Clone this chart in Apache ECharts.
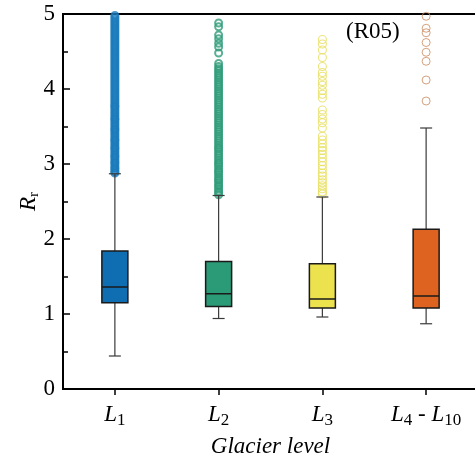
<!DOCTYPE html>
<html>
<head>
<meta charset="utf-8">
<script src="https://cdn.jsdelivr.net/npm/echarts@6/dist/echarts.min.js"></script>
<style>
  html, body { margin: 0; padding: 0; background: #fff; }
  #chart { width: 475px; height: 466px; }
</style>
</head>
<body>
<div id="chart"></div>
<script>
// Glacier levels on the category axis
const categories = ['L1', 'L2', 'L3', 'L4 - L10'];

// Box statistics of R_r per glacier level
const lowerWhisker = [0.44, 0.94, 0.96, 0.87];
const quartile1    = [1.15, 1.10, 1.08, 1.08];
const medians      = [1.36, 1.27, 1.20, 1.24];
const quartile3    = [1.84, 1.70, 1.67, 2.13];
const upperWhisker = [2.87, 2.58, 2.56, 3.48];

// Outliers above the upper whisker
const outliersL1 = [2.88, 2.90, 2.93, 2.95, 2.98, 3.01, 3.03, 3.06, 3.09, 3.11, 3.14, 3.17, 3.20, 3.22,
  3.25, 3.28, 3.31, 3.33, 3.36, 3.39, 3.42, 3.45, 3.47, 3.50, 3.53, 3.56, 3.59, 3.61, 3.64, 3.67, 3.70,
  3.73, 3.76, 3.78, 3.81, 3.84, 3.87, 3.90, 3.93, 3.96, 3.99, 4.02, 4.05, 4.08, 4.11, 4.14, 4.17, 4.20,
  4.23, 4.26, 4.29, 4.32, 4.35, 4.38, 4.41, 4.44, 4.47, 4.50, 4.53, 4.56, 4.59, 4.62, 4.65, 4.68, 4.71,
  4.74, 4.77, 4.80, 4.83, 4.86, 4.89, 4.92, 4.95, 4.98, 5.02, 5.05];
const outliersL2 = [2.59, 2.62, 2.64, 2.67, 2.70, 2.72, 2.75, 2.78, 2.80, 2.83, 2.86, 2.89, 2.91, 2.94,
  2.97, 3.00, 3.02, 3.05, 3.08, 3.11, 3.14, 3.17, 3.20, 3.22, 3.25, 3.28, 3.31, 3.34, 3.37, 3.40, 3.43,
  3.46, 3.49, 3.52, 3.55, 3.58, 3.61, 3.64, 3.67, 3.70, 3.73, 3.76, 3.79, 3.82, 3.85, 3.88, 3.91, 3.94,
  3.97, 4.00, 4.03, 4.06, 4.09, 4.12, 4.15, 4.18, 4.21, 4.24, 4.27, 4.30, 4.34, 4.48, 4.56, 4.61, 4.67,
  4.72, 4.83, 4.88];
const outliersL3 = [2.60, 2.63, 2.67, 2.71, 2.75, 2.79, 2.84, 2.88, 2.93, 2.98, 3.03, 3.08, 3.13, 3.18,
  3.22, 3.27, 3.32, 3.37, 3.48, 3.55, 3.60, 3.66, 3.72, 3.88, 3.93, 3.98, 4.05, 4.10, 4.17, 4.22, 4.30,
  4.42, 4.52, 4.60, 4.66];
const outliersL4 = [3.84, 4.12, 4.37, 4.49, 4.62, 4.75, 4.81, 4.97];

const outliers = [outliersL1, outliersL2, outliersL3, outliersL4];

// Fill colours of the boxes and outlier rings
const boxColors = ['#0f6db2', '#2b9a77', '#ece24e', '#de6320'];
const ringColors = ['#1a7bbb', '#2f9c79', '#e6df5a', '#c98a5e'];
// Ring size and stroke per level (dense clusters use a heavier stroke)
const ringSizes = [6.5, 7, 8, 8];
const ringWidths = [2.6, 2, 1.1, 1];

const serif = '"Liberation Serif", "Times New Roman", serif';
const FS = 23;

const boxData = categories.map((c, i) =>
  [i, lowerWhisker[i], quartile1[i], medians[i], quartile3[i], upperWhisker[i]]);

function renderBox(params, api) {
  const idx = api.value(0);
  const lo = api.coord([idx, api.value(1)]);
  const b1 = api.coord([idx, api.value(2)]);
  const md = api.coord([idx, api.value(3)]);
  const b3 = api.coord([idx, api.value(4)]);
  const hi = api.coord([idx, api.value(5)]);
  const x = lo[0];
  const hw = 13;   // half box width
  const cw = 6;    // half whisker cap width
  const whisk = { stroke: '#3a3a3a', lineWidth: 1.2 };
  const edge = { stroke: '#1a1a1a', lineWidth: 1.5 };
  return {
    type: 'group',
    children: [
      { type: 'line', shape: { x1: x, y1: hi[1], x2: x, y2: b3[1] }, style: whisk },
      { type: 'line', shape: { x1: x, y1: b1[1], x2: x, y2: lo[1] }, style: whisk },
      { type: 'line', shape: { x1: x - cw, y1: hi[1], x2: x + cw, y2: hi[1] }, style: whisk },
      { type: 'line', shape: { x1: x - cw, y1: lo[1], x2: x + cw, y2: lo[1] }, style: whisk },
      { type: 'rect', shape: { x: x - hw, y: b3[1], width: 2 * hw, height: b1[1] - b3[1] },
        style: { fill: boxColors[idx], stroke: edge.stroke, lineWidth: edge.lineWidth } },
      { type: 'line', shape: { x1: x - hw, y1: md[1], x2: x + hw, y2: md[1] }, style: edge }
    ]
  };
}

const scatterSeries = outliers.map((vals, i) => ({
  type: 'scatter',
  data: vals.map(v => [i, v]),
  symbol: 'circle',
  symbolSize: ringSizes[i],
  clip: true,
  silent: true,
  z: 2,
  itemStyle: {
    color: 'rgba(255,255,255,0)',
    borderColor: ringColors[i],
    borderWidth: ringWidths[i]
  }
}));

const chart = echarts.init(document.getElementById('chart'), null, { renderer: 'canvas' });

chart.setOption({
  animation: false,
  backgroundColor: '#fff',
  title: {
    text: '(R05)',
    left: 346,
    top: 20,
    padding: 0,
    textStyle: { fontFamily: serif, fontSize: FS, fontWeight: 'normal', color: '#000' }
  },
  grid: {
    left: 63,
    top: 14,
    width: 415,
    height: 375,
    show: true,
    borderColor: '#000',
    borderWidth: 2,
    containLabel: false,
    outerBoundsMode: 'none'
  },
  xAxis: {
    type: 'category',
    data: categories,
    boundaryGap: true,
    axisLine: { show: true, lineStyle: { color: '#000', width: 2 } },
    axisTick: { show: true, alignWithLabel: true, interval: 0, length: 6, lineStyle: { color: '#000', width: 1.5 } },
    axisLabel: {
      interval: 0,
      margin: 12,
      color: '#000',
      formatter: function (v) {
        return v.split(' - ').map(p => '{i|L}{s|' + p.slice(1) + '}').join('{n| - }');
      },
      rich: {
        i: { fontFamily: serif, fontStyle: 'italic', fontSize: FS, lineHeight: 28, verticalAlign: 'middle', color: '#000' },
        s: { fontFamily: serif, fontSize: 17, lineHeight: 17, verticalAlign: 'bottom', color: '#000' },
        n: { fontFamily: serif, fontSize: FS, lineHeight: 28, verticalAlign: 'middle', color: '#000' }
      }
    },
    splitLine: { show: false },
    name: 'Glacier level',
    nameLocation: 'middle',
    nameGap: 46,
    nameMoveOverlap: false,
    nameTextStyle: { fontFamily: serif, fontStyle: 'italic', fontSize: FS, color: '#000' }
  },
  yAxis: {
    type: 'value',
    min: 0,
    max: 5,
    interval: 1,
    axisLine: { show: true, lineStyle: { color: '#000', width: 2 } },
    axisTick: { show: true, inside: true, length: 7, lineStyle: { color: '#000', width: 1.5 } },
    minorTick: { show: true, splitNumber: 2, length: 5, lineStyle: { color: '#000', width: 1.5 } },
    axisLabel: { margin: 8, color: '#000', fontFamily: serif, fontSize: FS },
    splitLine: { show: false },
    name: '{i|R}{s|r}',
    nameLocation: 'middle',
    nameGap: 21,
    nameMoveOverlap: false,
    nameTextStyle: {
      rich: {
        i: { fontFamily: serif, fontStyle: 'italic', fontSize: FS, lineHeight: 26, verticalAlign: 'middle', color: '#000' },
        s: { fontFamily: serif, fontSize: 15, lineHeight: 15, verticalAlign: 'bottom', color: '#000' }
      }
    }
  },
  series: scatterSeries.concat([{
    type: 'custom',
    data: boxData,
    renderItem: renderBox,
    encode: { x: 0, y: [1, 2, 3, 4, 5] },
    clip: false,
    silent: true,
    z: 3
  }])
});
</script>
</body>
</html>
